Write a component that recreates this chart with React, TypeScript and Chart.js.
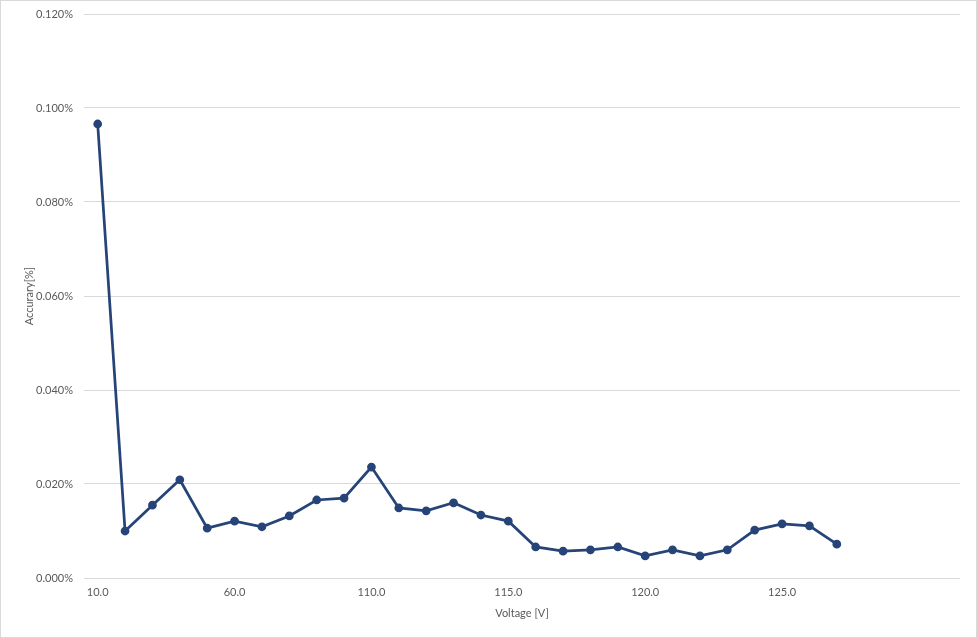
import React, { useEffect, useRef } from "react";
import { Chart, registerables } from "chart.js";

Chart.register(...registerables);

const voltageLabels: string[] = [
  "10.0", "20.0", "30.0", "40.0", "50.0", "60.0", "70.0", "80.0", "90.0", "100.0",
  "110.0", "111.0", "112.0", "113.0", "114.0", "115.0", "116.0", "117.0", "118.0", "119.0",
  "120.0", "121.0", "122.0", "123.0", "124.0", "125.0", "126.0", "127.0", "", "", "", "",
];

const accuracyValues: number[] = [
  0.0966, 0.0100, 0.0155, 0.0209, 0.0106, 0.0121, 0.0109, 0.0132, 0.0166, 0.0170,
  0.0236, 0.0149, 0.0143, 0.0160, 0.0134, 0.0121, 0.0066, 0.0057, 0.0060, 0.0066,
  0.0047, 0.0060, 0.0047, 0.0060, 0.0102, 0.0115, 0.0111, 0.0072,
];

const yTickValues: number[] = [0, 0.02, 0.04, 0.06, 0.08, 0.1, 0.12];

const FONT = "Lato, 'Open Sans', sans-serif";
const TEXT = "#595959";
const GRID = "#d9d9d9";
const LINE = "#264478";

const borderPlugin = {
  id: "outerBorder",
  beforeDraw(chart: any) {
    const { ctx, width, height } = chart;
    ctx.save();
    ctx.fillStyle = "#ffffff";
    ctx.fillRect(0, 0, width, height);
    ctx.strokeStyle = GRID;
    ctx.lineWidth = 1;
    ctx.strokeRect(0.5, 0.5, width - 1, height - 1);
    ctx.restore();
  },
};

export default function App() {
  const ref = useRef<HTMLCanvasElement | null>(null);

  useEffect(() => {
    document.body.style.margin = "0";
    if (!ref.current) return;
    const chart = new Chart(ref.current, {
      type: "line",
      data: {
        labels: voltageLabels,
        datasets: [
          {
            data: accuracyValues,
            borderColor: LINE,
            backgroundColor: LINE,
            borderWidth: 2.75,
            pointRadius: 3,
            pointHoverRadius: 3,
            pointBackgroundColor: LINE,
            pointBorderColor: LINE,
            tension: 0,
            fill: false,
          },
        ],
      },
      options: {
        animation: false,
        responsive: false,
        maintainAspectRatio: false,
        layout: { padding: { left: 0, right: 17, top: 14, bottom: 0 } },
        plugins: {
          legend: { display: false },
          tooltip: { enabled: false },
        },
        scales: {
          x: {
            type: "category",
            offset: true,
            grid: { display: false, drawTicks: false },
            border: { display: false },
            afterFit: (s: any) => {
              s.height = 60;
              s.paddingLeft = 0;
              s.paddingRight = 0;
            },
            ticks: {
              autoSkip: false,
              maxRotation: 0,
              padding: 8,
              color: TEXT,
              font: { family: FONT, size: 11 },
              callback: (_v: any, i: number) => (i % 5 === 0 ? voltageLabels[i] : ""),
            },
            title: {
              display: true,
              text: "Voltage [V]",
              color: TEXT,
              font: { family: FONT, size: 11 },
              padding: { top: 0, bottom: 18 },
            },
          },
          y: {
            min: 0,
            max: 0.12,
            afterFit: (s: any) => {
              s.width = 84;
              s.paddingTop = 0;
              s.paddingBottom = 0;
            },
            afterBuildTicks: (s: any) => {
              s.ticks = yTickValues.map((v) => ({ value: v }));
            },
            grid: { color: GRID, lineWidth: 1, drawTicks: false },
            border: { display: false },
            ticks: {
              padding: 11,
              color: TEXT,
              font: { family: FONT, size: 11 },
              callback: (v: any) => Number(v).toFixed(3) + "%",
            },
            title: {
              display: true,
              text: "Accurary[%]",
              color: TEXT,
              font: { family: FONT, size: 11 },
              padding: { top: 23, bottom: 0 },
            },
          },
        },
      },
      plugins: [borderPlugin],
    });
    return () => chart.destroy();
  }, []);

  return (
    <div style={{ width: 977, height: 638 }}>
      <canvas ref={ref} width={977} height={638} style={{ display: "block" }} />
    </div>
  );
}
